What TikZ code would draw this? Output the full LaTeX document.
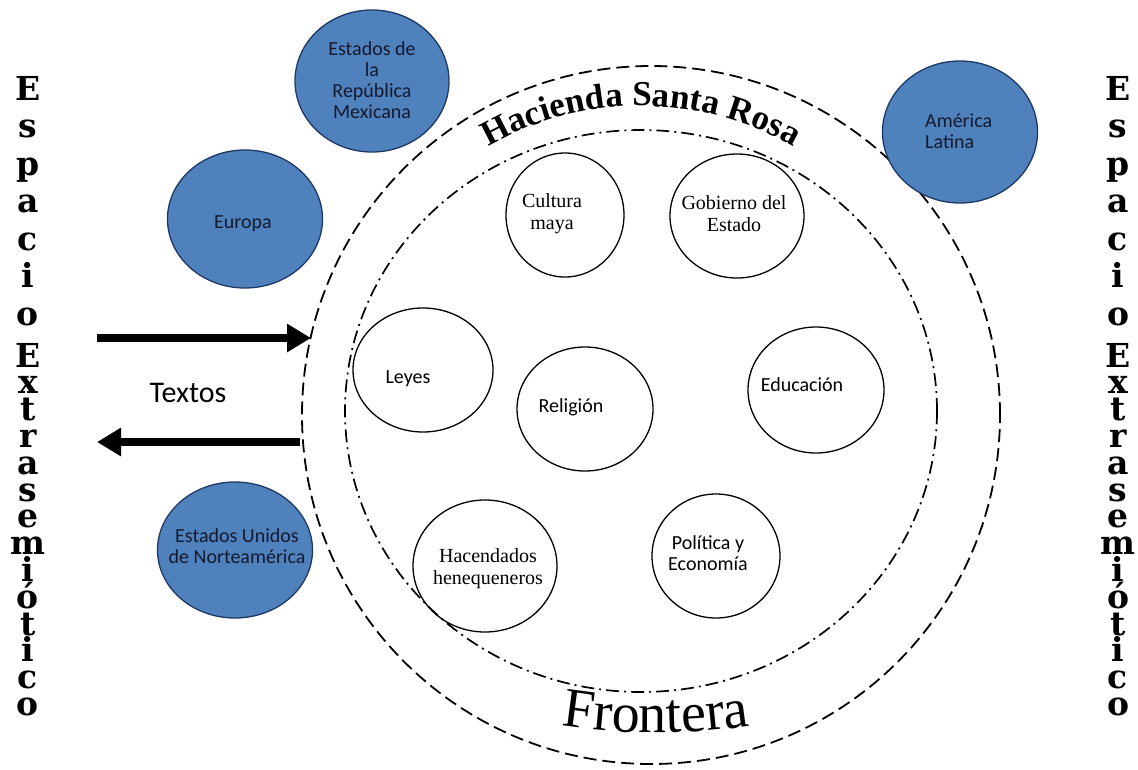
\documentclass[tikz,border=0pt]{standalone}
\usepackage{fontspec}
\setmainfont{Liberation Serif}
\newfontfamily\calfont{Carlito}
\newfontfamily\stackfont{DejaVu Serif}
\usetikzlibrary{arrows.meta,decorations.text,shapes.geometric}

\definecolor{ballfill}{HTML}{4F81BD}
\definecolor{ballline}{HTML}{1F3864}
\definecolor{balltext}{HTML}{141A2E}

\tikzset{
  outerline/.style={circle, draw=black, line width=1.8pt, dash pattern=on 13pt off 6pt, inner sep=0pt},
  innerline/.style={ellipse, draw=black, line width=1.7pt, dash pattern=on 13pt off 5pt on 2pt off 5pt, inner sep=0pt},
  ball/.style={ellipse, draw=ballline, line width=1.3pt, fill=ballfill, inner sep=0pt},
  topic/.style={ellipse, draw=black, line width=1.3pt, inner sep=0pt},
  caltext/.style={font=\calfont\fontsize{20}{21}\selectfont, align=center, text=balltext, inner sep=0pt},
  serift/.style={font=\fontsize{20}{22}\selectfont, align=center, inner sep=0pt},
  flow/.style={line width=8pt, -{Triangle[length=24pt,width=27pt]}},
  stack/.style={font=\stackfont\bfseries\fontsize{33}{33}\selectfont, anchor=base, inner sep=0pt}
}

\begin{document}
\begin{tikzpicture}[x=1pt,y=1pt]
\useasboundingbox (0,0) rectangle (1138,-769);

% border and semiosphere
\node[outerline, minimum size=698pt] (frontier) at (651,-415) {};
\node[innerline, minimum width=592pt, minimum height=562pt] (semio) at (641,-411) {};

% curved titles
\path[decorate, decoration={text along path, text align=center,
  text={|\bfseries\fontsize{35}{40}\selectfont|Hacienda Santa Rosa}}]
  (641,-413) ++(135:307) arc[start angle=135, end angle=45, radius=307];
\path[decorate, decoration={text along path, text align=center,
  text={|\fontsize{56}{60}\selectfont|Frontera}}]
  (656,-133) ++(250:600) arc[start angle=250, end angle=290, radius=600];

% inner topics
\node[topic, minimum width=118pt, minimum height=124pt] (cultura) at (565,-215) {};
\node[serift] (culturat) at (552,-214) {Cultura\\maya};
\node[topic, minimum width=134pt, minimum height=124pt] (gobierno) at (737,-216) {};
\node[serift] (gobiernot) at (734,-214) {Gobierno del\\Estado};
\node[topic, minimum width=140pt, minimum height=124pt] (leyes) at (423,-370) {};
\node[caltext, text=black] (leyest) at (408,-379) {Leyes};
\node[topic, minimum width=136pt, minimum height=124pt] (religion) at (585,-409) {};
\node[caltext, text=black] (religiont) at (571,-407) {Religión};
\node[topic, minimum width=136pt, minimum height=126pt] (educacion) at (816,-390) {};
\node[caltext, text=black] (educaciont) at (802,-385) {Educación};
\node[topic, minimum width=144pt, minimum height=132pt] (hacendados) at (485,-566) {};
\node[serift] (hacendadost) at (488,-569) {Hacendados\\henequeneros};
\node[topic, minimum width=128pt, minimum height=124pt] (politica) at (716,-556) {};
\node[caltext, text=black] (politicat) at (708,-553) {Política y\\Economía};

% outside spaces
\node[ball, minimum width=154pt, minimum height=142pt] (mexico) at (372,-81) {};
\node[caltext] (mexicot) at (372,-80) {Estados de\\la\\República\\Mexicana};
\node[ball, minimum width=155pt, minimum height=138pt] (europa) at (245,-219) {};
\node[caltext] (europat) at (243,-224) {Europa};
\node[ball, minimum width=155pt, minimum height=136pt] (eeuu) at (235,-550) {};
\node[caltext] (eeuut) at (237,-546) {Estados Unidos\\de Norteamérica};
\node[ball, minimum width=155pt, minimum height=142pt] (latina) at (960,-132) {};
\node[caltext, align=left, anchor=west] (latinat) at (925,-131) {América\\Latina};

% text exchange
\coordinate (inA) at (97,-338);
\coordinate (inB) at (311,-338);
\coordinate (outA) at (300,-442);
\coordinate (outB) at (97,-442);
\draw[flow] (inA) -- (inB);
\draw[flow] (outA) -- (outB);
\node[font=\calfont\fontsize{30}{32}\selectfont, inner sep=0pt] (textos) at (188,-393) {Textos};

% stacked side labels
\foreach \ch [count=\k from 0] in {E,s,p,a,c,i,o} {
  \node[stack] (ls\k) at (28,-100-37.5*\k) {\ch};
  \node[stack] (rs\k) at (1118,-100-37.5*\k) {\ch};
}
\foreach \ch [count=\k from 0] in {E,x,t,r,a,s,e,m,i,ó,t,i,c,o} {
  \node[stack] (le\k) at (28,-367-26.8*\k) {\ch};
  \node[stack] (re\k) at (1118,-367-26.8*\k) {\ch};
}
\end{tikzpicture}
\end{document}
